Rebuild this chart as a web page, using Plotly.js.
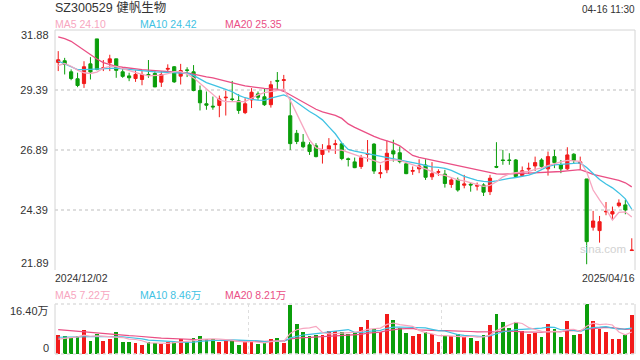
<!DOCTYPE html>
<html><head><meta charset="utf-8">
<script src="https://cdn.plot.ly/plotly-3.0.1.min.js"></script>
<style>html,body{margin:0;padding:0;background:#fff;}#chart{width:640px;height:360px;}</style>
</head><body><div id="chart"></div>
<script>
const stockTitle = 'SZ300529 健帆生物';
const timeStamp = '04-16 11:30';
const dateLabels = ['2024/12/02', '2025/04/16'];
const priceTicks = [31.88, 29.39, 26.89, 24.39, 21.89];
const volTicks = [16.40, 0];

const openP = [30.53,30.60,30.14,29.85,29.65,30.47,31.51,30.28,30.52,30.68,
30.14,29.97,29.86,29.82,30.03,30.07,29.71,30.25,30.35,29.96,
30.22,30.14,29.36,28.81,28.71,28.74,29.06,29.01,28.93,28.44,
28.97,29.22,29.10,28.77,29.78,29.78,28.31,27.58,27.21,27.10,
27.06,26.70,26.92,27.11,27.14,26.52,26.39,26.20,26.70,27.13,
25.90,26.06,26.85,26.77,26.31,26.00,26.10,26.26,25.77,25.96,
25.88,25.45,25.64,25.42,25.46,25.38,25.43,25.15,26.20,26.47,
26.47,26.47,25.82,26.09,26.22,26.47,26.10,26.61,26.27,26.10,
26.71,26.33,25.68,23.67,23.53,24.31,24.22,24.57,24.60,22.70];
const highP = [31.00,30.72,30.24,30.10,30.58,30.75,31.51,30.63,30.85,30.68,
30.31,30.10,30.20,30.17,30.63,30.21,30.17,30.45,30.38,30.47,
30.33,30.42,29.57,29.32,29.11,29.15,29.35,29.76,29.21,29.04,
29.46,29.32,29.46,29.76,30.13,30.01,29.00,27.72,27.55,27.21,
27.17,27.13,27.38,27.31,27.17,26.57,26.57,26.68,27.30,27.17,
26.27,27.28,27.31,27.03,26.33,26.20,26.50,26.50,26.38,26.08,
26.06,25.71,25.74,25.85,25.53,25.53,25.50,25.85,27.21,26.89,
26.75,26.51,26.20,26.36,26.61,26.54,26.82,26.89,26.47,27.00,
26.75,26.61,25.68,24.35,24.14,24.72,24.53,24.83,24.81,23.21];
const lowP = [30.17,30.03,29.79,29.50,29.47,29.82,30.20,30.17,30.17,29.89,
29.89,29.75,29.72,29.58,29.89,29.51,29.51,30.10,29.68,29.61,
29.92,29.33,28.53,28.56,28.56,28.25,28.32,28.90,28.39,28.38,
28.63,28.97,28.72,28.65,29.39,29.32,26.89,27.13,26.96,26.68,
26.58,26.32,26.78,26.72,26.46,26.20,26.13,26.10,26.40,25.89,
25.71,25.92,26.40,26.33,25.88,25.85,25.92,25.64,25.64,25.81,
25.32,25.31,25.15,25.29,25.15,25.20,24.97,25.01,26.13,26.27,
26.27,25.74,25.78,25.89,26.01,26.13,25.82,26.13,25.92,26.06,
26.31,26.06,22.13,23.53,23.03,24.17,23.97,24.50,24.21,22.70];
const closeP = [30.64,30.45,29.86,29.57,30.35,30.13,30.24,30.31,30.68,30.20,
29.95,29.89,30.03,30.03,30.00,29.51,30.03,30.28,29.72,30.19,
30.20,29.36,28.85,28.75,28.68,29.01,29.08,28.99,28.53,28.81,
29.29,29.08,28.77,29.60,29.75,29.81,27.15,27.24,27.02,26.82,
26.61,26.89,27.06,27.14,26.53,26.49,26.15,26.56,26.73,26.01,
25.94,26.75,26.72,26.40,25.90,26.03,26.22,25.75,25.90,25.98,
25.49,25.64,25.22,25.47,25.43,25.41,25.13,25.71,26.17,26.45,
26.45,25.78,26.02,26.12,26.36,26.20,26.61,26.36,26.10,26.68,
26.45,26.39,23.07,23.93,23.90,24.33,24.32,24.68,24.39,22.72];

const ma5 = [30.40,30.49,30.37,30.21,30.10,30.07,30.13,30.29,30.37,30.36,
30.27,30.18,30.12,30.03,29.97,29.97,30.00,30.06,30.15,30.15,
30.04,29.89,29.66,29.43,29.16,28.97,28.90,28.90,28.90,28.90,
29.04,29.18,29.27,29.31,29.37,29.41,28.95,28.40,27.85,27.30,
26.97,26.91,26.89,26.89,26.88,26.79,26.68,26.60,26.54,26.43,
26.35,26.45,26.47,26.45,26.35,26.27,26.18,26.10,25.99,25.87,
25.83,25.74,25.64,25.60,25.52,25.43,25.37,25.41,25.56,25.77,
25.89,25.94,25.97,25.99,26.08,26.14,26.24,26.33,26.39,26.45,
26.44,26.41,25.97,25.22,24.81,24.43,23.97,24.29,24.31,24.10];
const ma10 = [30.59,30.47,30.35,30.23,30.23,30.24,30.26,30.27,30.29,30.29,
30.26,30.23,30.22,30.19,30.16,30.14,30.13,30.12,30.11,30.09,
30.08,29.99,29.85,29.69,29.60,29.52,29.41,29.31,29.16,29.06,
28.99,28.96,28.95,29.04,29.12,29.18,29.06,28.86,28.68,28.49,
28.33,28.14,27.85,27.56,27.18,26.91,26.84,26.79,26.72,26.67,
26.62,26.58,26.54,26.49,26.43,26.37,26.31,26.24,26.18,26.16,
26.12,26.04,25.91,25.79,25.70,25.62,25.58,25.56,25.60,25.66,
25.70,25.74,25.79,25.84,25.93,26.06,26.20,26.27,26.29,26.31,
26.32,26.35,26.16,25.89,25.66,25.47,25.31,25.10,24.85,24.42];
const ma20 = [31.59,31.52,31.41,31.22,31.02,30.85,30.67,30.52,30.43,30.37,
30.33,30.29,30.25,30.23,30.21,30.19,30.18,30.17,30.15,30.13,
30.09,30.04,29.97,29.93,29.89,29.83,29.77,29.70,29.62,29.55,
29.51,29.47,29.45,29.43,29.42,29.33,29.18,29.06,28.91,28.74,
28.58,28.47,28.41,28.33,28.20,27.97,27.83,27.70,27.58,27.45,
27.35,27.27,27.18,27.06,26.85,26.66,26.58,26.52,26.47,26.43,
26.37,26.31,26.25,26.18,26.13,26.06,25.98,25.92,25.89,25.88,
25.88,25.89,25.91,25.92,25.93,25.94,25.95,25.97,25.99,26.02,
26.04,26.07,25.97,25.87,25.81,25.73,25.68,25.62,25.52,25.35];

const volume = [6.2,5.9,5.1,5.8,7.9,4.4,6.5,4.4,4.9,7.2,
4.0,4.0,3.7,2.9,3.8,3.6,3.4,3.8,4.0,4.8,
4.0,5.2,5.9,4.8,4.8,3.9,4.6,4.6,2.9,4.0,
4.4,3.3,3.7,4.9,5.2,3.7,16.2,9.8,7.2,5.9,
6.2,6.2,7.5,7.7,7.1,6.4,7.1,8.8,11.1,8.2,
7.3,13.1,11.1,8.4,6.9,5.9,6.5,7.2,6.4,4.0,
6.0,5.9,6.4,5.7,5.2,4.4,6.2,9.5,13.1,10.5,
8.5,10.4,7.5,6.5,7.0,5.6,9.8,8.2,5.6,10.8,
6.2,6.5,16.4,10.8,8.2,7.3,4.9,4.9,6.3,12.7];
const vma5 = [4.9,5.2,5.5,5.6,6.18,5.82,5.94,5.80,5.62,5.48,
5.40,4.90,4.76,4.36,3.68,3.60,3.48,3.50,3.72,3.92,
4.00,4.36,4.78,4.94,4.94,4.92,4.80,4.54,4.16,4.00,
4.10,3.84,3.66,4.06,4.30,4.16,6.74,7.96,8.42,8.56,
9.06,7.06,6.60,6.70,6.94,6.98,7.16,7.42,8.10,8.32,
8.50,9.70,10.16,9.62,9.36,9.08,7.76,6.98,6.58,6.00,
6.02,5.90,5.74,5.60,5.84,5.52,5.58,6.20,7.68,8.74,
9.56,10.40,10.00,8.68,7.98,7.40,7.28,7.42,7.24,8.00,
8.12,7.46,9.10,10.14,9.62,9.84,9.52,7.22,6.32,7.22];
const vma10 = [5.5,5.5,5.5,5.6,5.7,5.7,5.8,5.8,5.8,5.83,
5.61,5.42,5.28,4.99,4.58,4.50,4.19,4.13,4.04,3.80,
3.80,3.92,4.14,4.33,4.43,4.46,4.58,4.66,4.55,4.47,
4.51,4.32,4.10,4.11,4.15,4.13,5.29,5.81,6.24,6.43,
6.61,6.90,7.28,7.56,7.75,8.02,7.11,7.01,7.40,7.63,
7.74,8.43,8.79,8.86,8.84,8.79,8.73,8.57,8.10,7.68,
7.55,6.83,6.36,6.09,5.92,5.77,5.74,5.97,6.64,7.29,
7.54,7.99,8.10,8.18,8.36,8.48,8.84,8.71,7.96,7.99,
7.76,7.37,8.26,8.69,8.81,8.98,8.49,8.16,8.23,8.46];
const vma20 = [8.0,7.8,7.6,7.4,7.2,7.0,6.8,6.6,6.4,6.3,
6.2,6.0,5.9,5.8,5.6,5.4,5.2,5.1,5.0,4.82,
4.71,4.67,4.71,4.66,4.51,4.48,4.39,4.40,4.30,4.14,
4.16,4.12,4.12,4.22,4.29,4.30,4.94,5.24,5.40,5.45,
5.56,5.61,5.69,5.84,5.95,6.08,6.20,6.41,6.82,7.03,
7.18,7.67,8.04,8.21,8.30,8.41,7.92,7.79,7.75,7.66,
7.65,7.63,7.58,7.48,7.38,7.28,7.24,7.27,7.37,7.49,
7.55,7.41,7.23,7.14,7.14,7.13,7.29,7.34,7.30,7.64,
7.65,7.68,8.18,8.44,8.59,8.73,8.67,8.44,8.10,8.21];

const RED = '#f21a1a', GREEN = '#0b9e0b';
const C5 = '#f7a6c0', C10 = '#3fc2e3', C20 = '#ea4f85';
const FONT = 'Liberation Sans, Arial, Noto Sans CJK SC, sans-serif';

const W = 640, H = 360, L = 55, R = 5, T = 30, B = 6;
const plotW = W - L - R, plotH = H - T - B;
const px = x => (x - L) / plotW;
const py = y => (H - B - y) / plotH;
const mainBottom = py(270), volTop = py(304);

const idx = closeP.map((_, i) => i);
const n = idx.length;
const volColors = closeP.map((c, i) => c >= openP[i] ? RED : GREEN);
const last = a => a[a.length - 1];

const traces = [
  {type:'candlestick', x: idx, open: openP, high: highP, low: lowP, close: closeP,
   xaxis:'x', yaxis:'y', whiskerwidth: 0, hoverinfo:'skip',
   increasing:{line:{color:RED, width:1}, fillcolor:RED},
   decreasing:{line:{color:GREEN, width:1}, fillcolor:GREEN}},
  {type:'scatter', mode:'lines', x: idx, y: ma20, xaxis:'x', yaxis:'y', line:{color:C20, width:1.3}, hoverinfo:'skip'},
  {type:'scatter', mode:'lines', x: idx, y: ma10, xaxis:'x', yaxis:'y', line:{color:C10, width:1.3}, hoverinfo:'skip'},
  {type:'scatter', mode:'lines', x: idx, y: ma5, xaxis:'x', yaxis:'y', line:{color:C5, width:1.3}, hoverinfo:'skip'},
  {type:'bar', x: idx, y: volume, xaxis:'x2', yaxis:'y2', width: 0.6, marker:{color: volColors, line:{width:0}}, hoverinfo:'skip'},
  {type:'scatter', mode:'lines', x: idx, y: vma20, xaxis:'x2', yaxis:'y2', line:{color:C20, width:1.2}, hoverinfo:'skip'},
  {type:'scatter', mode:'lines', x: idx, y: vma10, xaxis:'x2', yaxis:'y2', line:{color:C10, width:1.2}, hoverinfo:'skip'},
  {type:'scatter', mode:'lines', x: idx, y: vma5, xaxis:'x2', yaxis:'y2', line:{color:C5, width:1.2}, hoverinfo:'skip'}
];

function ann(text, xPix, yPix, xanchor, color, size) {
  return {text, x: px(xPix), y: py(yPix), xref:'paper', yref:'paper', xanchor, yanchor:'middle',
    showarrow:false, font:{family:FONT, size, color}, borderpad:0};
}

const annotations = [
  ann(timeStamp, 636, 10, 'right', '#333', 10),
  ann('MA5 ' + last(ma5).toFixed(2), 54, 24, 'left', C5, 10.5),
  ann('MA10 ' + last(ma10).toFixed(2), 139, 24, 'left', C10, 10.5),
  ann('MA20 ' + last(ma20).toFixed(2), 224, 24, 'left', C20, 10.5),
  ann(dateLabels[0], 54, 278, 'left', '#333', 10.5),
  ann(dateLabels[1], 636, 278, 'right', '#333', 10.5),
  ann('MA5 ' + last(vma5).toFixed(2) + '万', 54, 295, 'left', C5, 10.5),
  ann('MA10 ' + last(vma10).toFixed(2) + '万', 139, 295, 'left', C10, 10.5),
  ann('MA20 ' + last(vma20).toFixed(2) + '万', 224, 295, 'left', C20, 10.5),
  {text:'sina.com', x: px(603), y: py(249), xref:'paper', yref:'paper', xanchor:'center', yanchor:'middle',
   showarrow:false, font:{family:FONT, size:11.5, color:'#d2d2d2'}},
  {text: priceTicks[0].toFixed(2), x: 0, xref:'paper', xanchor:'right', xshift:-4, y: priceTicks[0], yref:'y', yanchor:'middle', yshift:-4.5, showarrow:false, font:{family:FONT, size:11, color:'#333'}},
  {text: priceTicks[4].toFixed(2), x: 0, xref:'paper', xanchor:'right', xshift:-4, y: priceTicks[4], yref:'y', yanchor:'middle', yshift:7, showarrow:false, font:{family:FONT, size:11, color:'#333'}},
  {text: volTicks[0].toFixed(2) + '万', x: 0, xref:'paper', xanchor:'right', xshift:-4, y: volTicks[0], yref:'y2', yanchor:'middle', yshift:-7, showarrow:false, font:{family:FONT, size:11, color:'#333'}},
  {text: String(volTicks[1]), x: 0, xref:'paper', xanchor:'right', xshift:-4, y: volTicks[1], yref:'y2', yanchor:'middle', yshift:6, showarrow:false, font:{family:FONT, size:11, color:'#333'}}
];

const BORDER = '#d4d4d4', GRID = '#dedede';
const shapes = [
  {type:'line', xref:'paper', yref:'paper', x0:0, x1:1, y0:1, y1:1, line:{color:BORDER, width:1}},
  {type:'line', xref:'paper', yref:'paper', x0:0, x1:0, y0:mainBottom, y1:1, line:{color:BORDER, width:1}},
  {type:'line', xref:'paper', yref:'paper', x0:1, x1:1, y0:mainBottom, y1:1, line:{color:BORDER, width:1}},
  {type:'line', xref:'paper', yref:'paper', x0:0, x1:0, y0:0, y1:volTop, line:{color:BORDER, width:1}},
  {type:'line', xref:'paper', yref:'paper', x0:1, x1:1, y0:0, y1:volTop, line:{color:BORDER, width:1}},
  {type:'line', xref:'paper', yref:'paper', x0:0, x1:1, y0:volTop, y1:volTop, line:{color:GRID, width:1.5, dash:'dot'}},
  {type:'line', xref:'paper', yref:'paper', x0:0, x1:1, y0:0, y1:0, line:{color:GRID, width:1.5, dash:'dot'}}
];

const layout = {
  width: W, height: H,
  margin: {l: L, r: R, t: T, b: B, pad: 0},
  paper_bgcolor: '#fff', plot_bgcolor: '#fff',
  showlegend: false,
  font: {family: FONT, size: 11, color: '#333'},
  title: {text: stockTitle, x: 55 / W, xanchor: 'left', xref: 'container', y: 1 - 8 / H, yref: 'container', yanchor: 'middle',
          font: {family: FONT, size: 12.5, color: '#333'}},
  xaxis: {domain:[0,1], anchor:'y', range:[-0.5, n - 0.5], showgrid:false, showticklabels:false, zeroline:false,
          showline:false, ticks:'', rangeslider:{visible:false}, fixedrange:true},
  yaxis: {domain:[mainBottom, 1], anchor:'x', range:[priceTicks[4], priceTicks[0]],
          tickvals: priceTicks.slice(1, 4), ticktext: priceTicks.slice(1, 4).map(v => v.toFixed(2)),
          showgrid:true, gridcolor:GRID, gridwidth:1.5, griddash:'dot', zeroline:false, showline:false,
          ticks:'outside', ticklen:4, tickcolor:'rgba(0,0,0,0)', tickfont:{family:FONT, size:11, color:'#333'}, fixedrange:true},
  xaxis2: {domain:[0,1], anchor:'y2', range:[-0.5, n - 0.5], tickvals:[(n / 3) - 0.5, (2 * n / 3) - 0.5],
           showgrid:true, gridcolor:GRID, gridwidth:1.5, griddash:'dot', showticklabels:false, zeroline:false,
           showline:false, ticks:'', fixedrange:true},
  yaxis2: {domain:[0, volTop], anchor:'x2', range:[0, volTicks[0]], showgrid:false, showticklabels:false,
           zeroline:false, showline:false, ticks:'', fixedrange:true},
  bargap: 0,
  annotations, shapes
};

Plotly.newPlot('chart', traces, layout, {staticPlot: true, displayModeBar: false});
</script>
</body></html>
